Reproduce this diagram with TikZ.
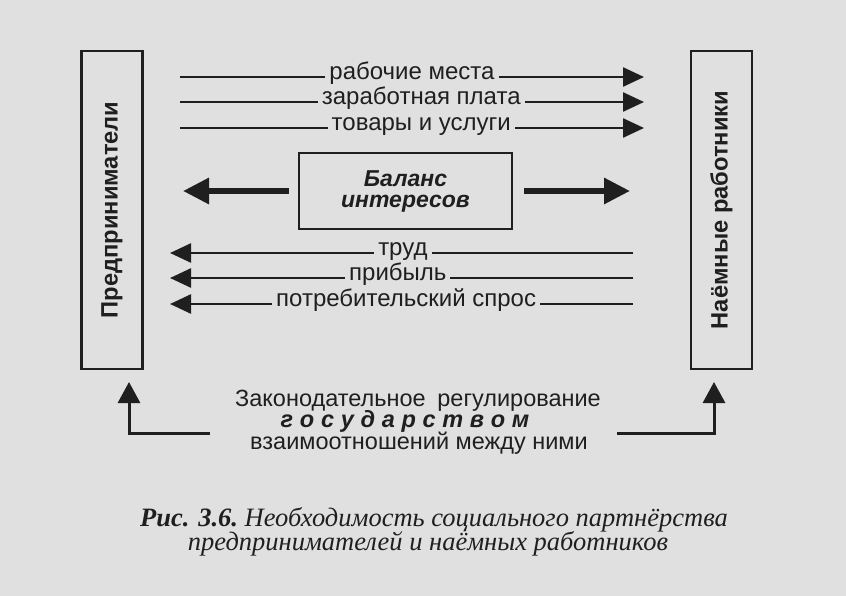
\documentclass[tikz,border=0pt]{standalone}
\usepackage{fontspec}
\setmainfont{Liberation Sans}
\newfontfamily\capfont{Liberation Serif}
\usetikzlibrary{arrows.meta}
\definecolor{bg}{gray}{0.88}
\definecolor{ink}{gray}{0.12}
\newcommand\lsp{\hspace{6.7pt}}
\begin{document}
\begin{tikzpicture}[x=1pt,y=-1pt,
  sidebox/.style={draw=ink, line width=2.8pt, inner sep=0pt, rotate=90, text=ink,
    minimum width=318pt, minimum height=61pt, font=\fontsize{23.7}{26}\selectfont\bfseries},
  midbox/.style={draw=ink, line width=2.5pt, inner sep=0pt, text=ink, align=center,
    minimum width=213pt, minimum height=76pt, font=\fontsize{23}{21}\selectfont\bfseries\itshape},
  flow/.style={draw=ink, line width=2.5pt, -{Triangle[length=21pt,width=19pt]}},
  bigflow/.style={draw=ink, line width=6pt, -{Triangle[length=26pt,width=25pt]}},
  upflow/.style={draw=ink, line width=3pt, line join=miter, -{Triangle[length=21pt,width=22pt]}},
  lbl/.style={fill=bg, inner xsep=4pt, inner ysep=3pt, text=ink, text height=1ex, text depth=0pt,
    font=\fontsize{24}{26}\selectfont},
  regtext/.style={anchor=base, inner sep=0pt, text=ink, font=\fontsize{23.5}{26}\selectfont},
  captext/.style={anchor=base, inner sep=0pt, text=ink, font=\fontsize{26.5}{30}\selectfont\capfont\itshape}
]
\fill[bg] (0,0) rectangle (846,596);
\useasboundingbox (0,0) rectangle (846,596);

% boxes
\node[sidebox] (L) at (112,210) {Предприниматели};
\node[sidebox] (R) at (721.5,210) {Наёмные работники};
\node[midbox] (B) at (405.5,191) {Баланс\\интересов};

% top flows
\coordinate (a1s) at (180,77);  \coordinate (a1e) at (644,77);
\coordinate (a2s) at (180,102); \coordinate (a2e) at (644,102);
\coordinate (a3s) at (180,128); \coordinate (a3e) at (644,128);
\draw[flow] (a1s) -- node[lbl, pos=0.5] (t1) {рабочие места} (a1e);
\draw[flow] (a2s) -- node[lbl, pos=0.52] (t2) {заработная плата} (a2e);
\draw[flow] (a3s) -- node[lbl, pos=0.52] (t3) {товары и услуги} (a3e);

% balance arrows
\coordinate (bl) at (183,191);
\coordinate (br) at (630,191);
\draw[bigflow] ([xshift=-9pt]B.west) -- (bl);
\draw[bigflow] ([xshift=11pt]B.east) -- (br);

% bottom flows
\coordinate (b1s) at (633,253); \coordinate (b1e) at (170,253);
\coordinate (b2s) at (633,278); \coordinate (b2e) at (170,278);
\coordinate (b3s) at (633,304); \coordinate (b3e) at (170,304);
\draw[flow] (b1s) -- node[lbl, pos=0.497] (t4) {труд} (b1e);
\draw[flow] (b2s) -- node[lbl, pos=0.508] (t5) {прибыль} (b2e);
\draw[flow] (b3s) -- node[lbl, pos=0.49] (t6) {потребительский спрос} (b3e);

% regulation
\node[regtext] (g1) at (418,406) {Законодательное\hspace{0.5em}регулирование};
\node[regtext] (g2) at (405,427.5) {\bfseries\itshape г\lsp о\lsp с\lsp у\lsp д\lsp а\lsp р\lsp с\lsp т\lsp в\lsp о\lsp м};
\node[regtext] (g3) at (419,449) {взаимоотношений между ними};

\coordinate (u1s) at (210,433); \coordinate (u1c) at (129,433); \coordinate (u1e) at (129,382);
\coordinate (u2s) at (617,433); \coordinate (u2c) at (714,433); \coordinate (u2e) at (714,382);
\draw[upflow] (u1s) -- (u1c) -- (u1e);
\draw[upflow] (u2s) -- (u2c) -- (u2e);

% caption
\node[captext] (c1) at (434,526) {\bfseries Рис. 3.6.\mdseries\ Необходимость социального партнёрства};
\node[captext] (c2) at (428,550) {предпринимателей и наёмных работников};
\end{tikzpicture}
\end{document}
